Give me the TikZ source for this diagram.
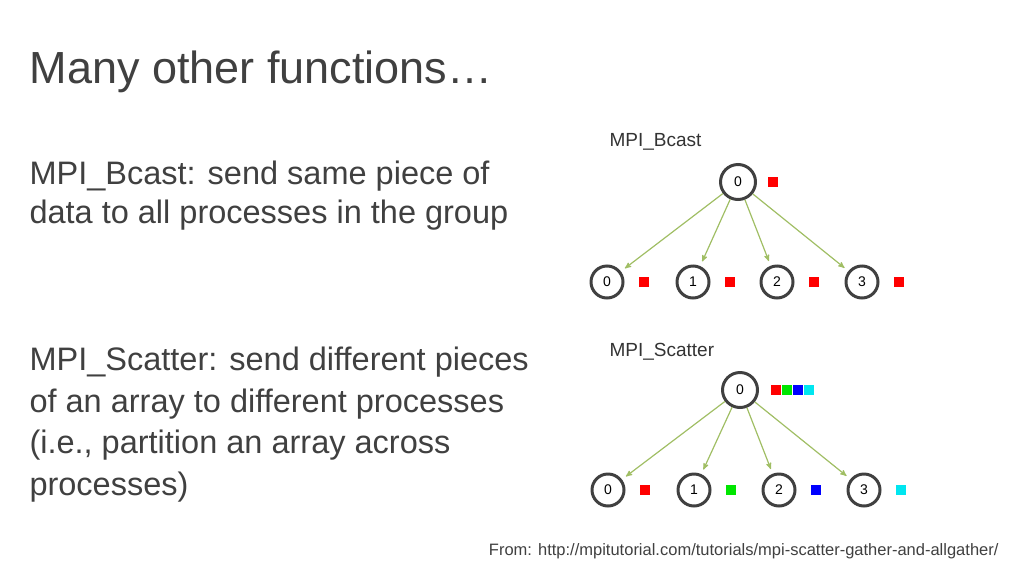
\documentclass[tikz,border=0pt]{standalone}
\usepackage{fontspec}
\setmainfont{Liberation Sans}
\usetikzlibrary{arrows}
\definecolor{titlegray}{RGB}{64,64,64}
\definecolor{arrowgreen}{RGB}{160,190,100}
\definecolor{datacyan}{RGB}{0,230,240}
\definecolor{datagreen}{RGB}{0,230,0}
\tikzset{
  proc/.style = {circle, draw=black!75, line width=3pt, minimum size=35pt, inner sep=0pt, font=\fontsize{14}{14}\selectfont},
  proc_S/.style = {proc, minimum size=32pt},
  datum/.style = {rectangle, minimum size=10.5pt, inner sep=0pt},
  label_T/.style = {anchor=west, font=\fontsize{19}{19}\selectfont, text=black!80},
  bodytext/.style = {anchor=west, font=\fontsize{32.5}{32.5}\selectfont, text=titlegray},
  send/.style = {->, >=stealth', arrowgreen, line width=1.2pt, shorten >=5pt}
}
\begin{document}
\begin{tikzpicture}[x=1pt,y=-1pt]
  \useasboundingbox (0,0) rectangle (1024,576);
  % title
  \node [anchor=west, font=\fontsize{45}{45}\selectfont, text=titlegray] (title) at (26,72) {Many other functions…};
  % text on the left
  \node [bodytext] (bc1) at (26,176) {MPI\_Bcast: send same piece of};
  \node [bodytext] (bc2) at (26,215) {data to all processes in the group};
  \node [bodytext] (sc1) at (26,362) {MPI\_Scatter: send different pieces};
  \node [bodytext] (sc2) at (26,404) {of an array to different processes};
  \node [bodytext] (sc3) at (26,445) {(i.e., partition an array across};
  \node [bodytext] (sc4) at (26,487) {processes)};
  % MPI_Bcast tree
  \node [label_T] (bcastlabel) at (606,142) {MPI\_Bcast};
  \node [proc] (broot) at (738,182) {0};
  \node [datum, fill=red] (bd) at (773,182) {};
  \foreach \i/\x in {0/607,1/693,2/777,3/862}{
    \node [proc_S] (b\i) at (\x,282) {\i};
    \node [datum, fill=red] (bd\i) at (\x+37,282) {};
    \draw [send] (broot) -- (b\i);
  }
  % MPI_Scatter tree
  \node [label_T] (scatterlabel) at (606,352) {MPI\_Scatter};
  \node [proc] (sroot) at (740,390) {0};
  \foreach \c [count=\k from 0] in {red,datagreen,blue,datacyan}{
    \node [datum, fill=\c] (sd\k) at (776+\k*11,390) {};
  }
  \foreach \i/\x/\c in {0/608/red,1/694/datagreen,2/779/blue,3/864/datacyan}{
    \node [proc_S] (s\i) at (\x,490) {\i};
    \node [datum, fill=\c] (sd\i s) at (\x+37,490) {};
    \draw [send] (sroot) -- (s\i);
  }
  % source
  \node [anchor=east, font=\fontsize{16.5}{16.5}\selectfont, text=titlegray] (source) at (1002,551) {From: http://mpitutorial.com/tutorials/mpi-scatter-gather-and-allgather/};
\end{tikzpicture}
\end{document}
